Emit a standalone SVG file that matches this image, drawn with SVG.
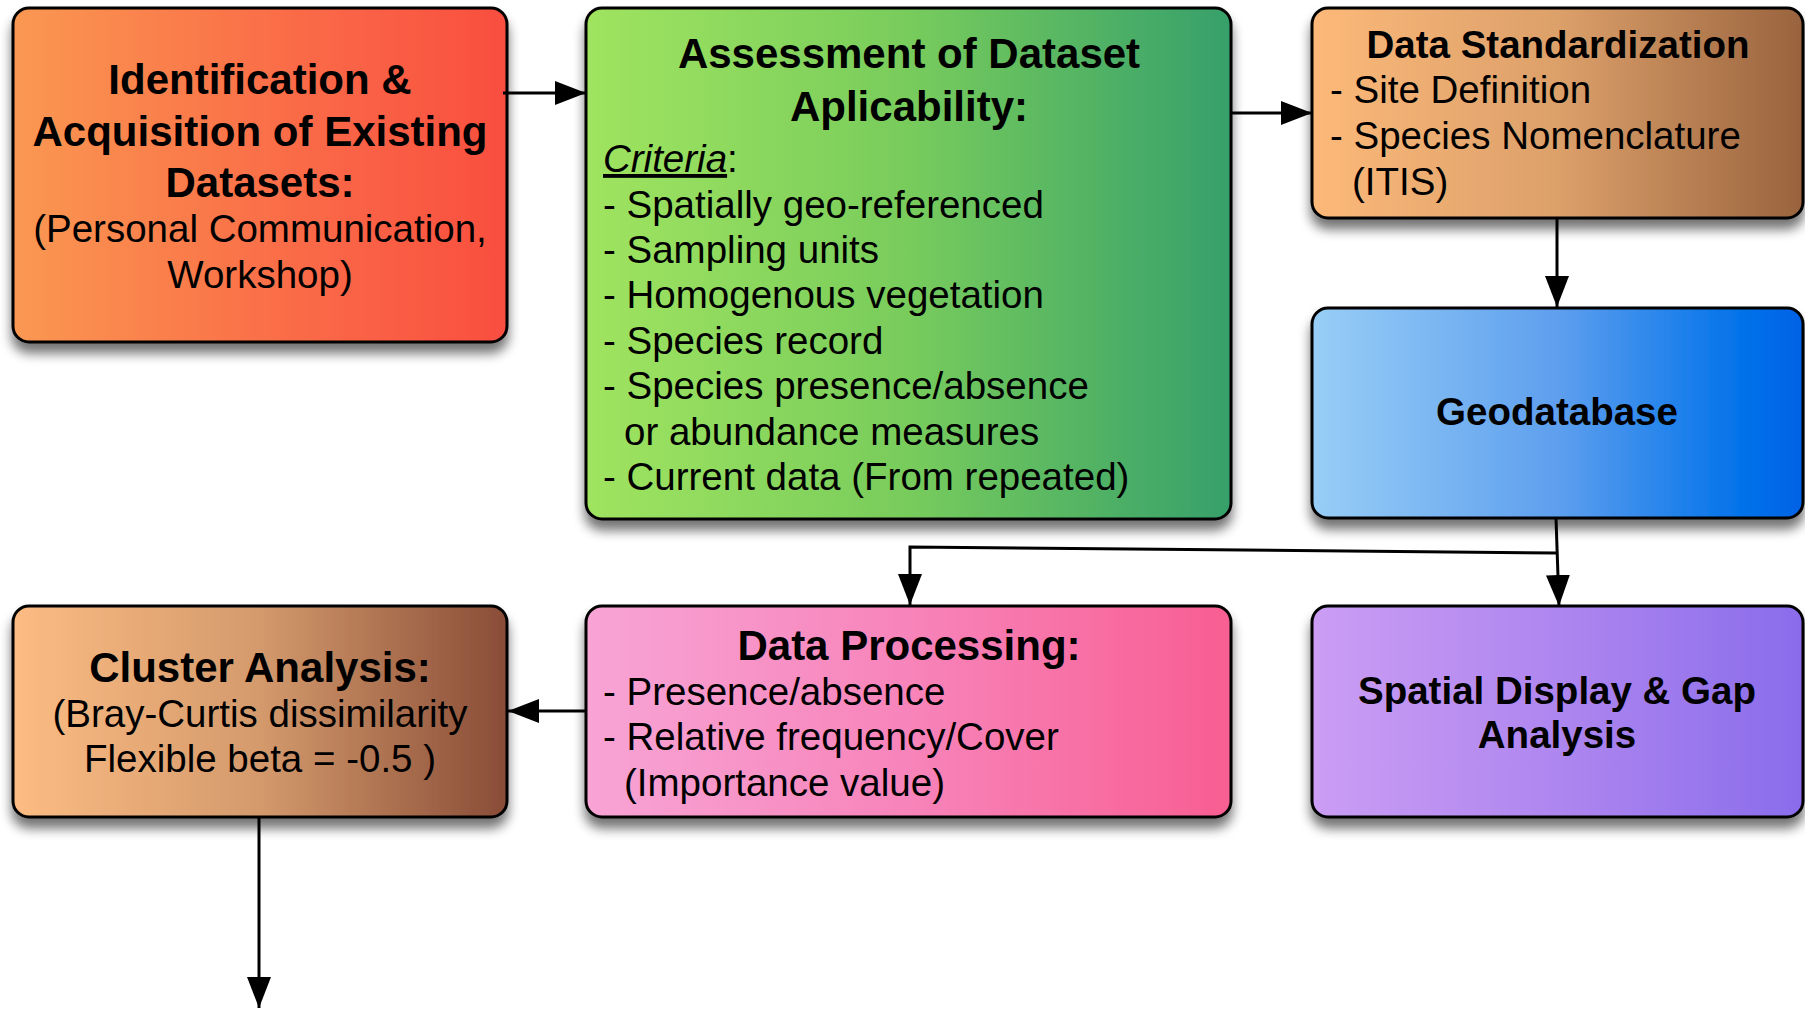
<svg xmlns="http://www.w3.org/2000/svg" width="1805" height="1009" viewBox="0 0 1805 1009">
<defs>
<filter id="sh" x="-10%" y="-10%" width="120%" height="130%">
<feGaussianBlur in="SourceAlpha" stdDeviation="6"/>
<feOffset dx="0" dy="10" result="b"/>
<feComponentTransfer><feFuncA type="linear" slope="0.55"/></feComponentTransfer>
<feMerge><feMergeNode/><feMergeNode in="SourceGraphic"/></feMerge>
</filter>
<linearGradient id="g1" x1="0" y1="0" x2="1" y2="0"><stop offset="0" stop-color="#FA9852"/><stop offset="0.5" stop-color="#FA7048"/><stop offset="1" stop-color="#F94E40"/></linearGradient>
<linearGradient id="g2" x1="0" y1="0" x2="1" y2="0"><stop offset="0" stop-color="#A0E45F"/><stop offset="0.5" stop-color="#78CC5C"/><stop offset="1" stop-color="#36A06B"/></linearGradient>
<linearGradient id="g3" x1="0" y1="0" x2="1" y2="0"><stop offset="0" stop-color="#FCB979"/><stop offset="0.5" stop-color="#DCA06A"/><stop offset="1" stop-color="#99633E"/></linearGradient>
<linearGradient id="g4" x1="0" y1="0" x2="1" y2="0"><stop offset="0" stop-color="#98CEF6"/><stop offset="0.5" stop-color="#5E9FEE"/><stop offset="0.85" stop-color="#0775EA"/><stop offset="1" stop-color="#0062E6"/></linearGradient>
<linearGradient id="g5" x1="0" y1="0" x2="1" y2="0"><stop offset="0" stop-color="#FCBC83"/><stop offset="0.5" stop-color="#D49A6C"/><stop offset="1" stop-color="#894C37"/></linearGradient>
<linearGradient id="g6" x1="0" y1="0" x2="1" y2="0"><stop offset="0" stop-color="#F8A4D5"/><stop offset="0.5" stop-color="#F784BA"/><stop offset="1" stop-color="#F85E92"/></linearGradient>
<linearGradient id="g7" x1="0" y1="0" x2="1" y2="0"><stop offset="0" stop-color="#CB9DF4"/><stop offset="0.5" stop-color="#AE86EF"/><stop offset="1" stop-color="#8A6CEB"/></linearGradient>
<marker id="ah" viewBox="0 0 31 24" refX="31" refY="12" markerWidth="31" markerHeight="24" markerUnits="userSpaceOnUse" orient="auto">
<path d="M0,0 L31,12 L0,24 z" fill="#000"/>
</marker>
</defs>
<style>
.box{stroke:#000;stroke-width:3}
text{font-family:"Liberation Sans",Arial,Helvetica,sans-serif;fill:#000}
.b{font-weight:bold;font-size:42px}
.bs{font-weight:bold;font-size:38.5px}
.r{font-size:38.5px}
.c{text-anchor:middle}
.con{fill:none;stroke:#000;stroke-width:3}
</style>
<rect width="1805" height="1009" fill="#fff"/>

<g id="node-identification">
<rect class="box" x="13" y="8" width="494" height="334" rx="16" fill="url(#g1)" filter="url(#sh)"/>
<text class="b c" x="260" y="94">Identification &amp;</text>
<text class="b c" x="260" y="146">Acquisition of Existing</text>
<text class="b c" x="260" y="197">Datasets:</text>
<text class="r c" x="260" y="242">(Personal Communication,</text>
<text class="r c" x="260" y="288">Workshop)</text>
</g>

<g id="node-assessment">
<rect class="box" x="586" y="8" width="645" height="511" rx="16" fill="url(#g2)" filter="url(#sh)"/>
<text class="b c" x="909" y="68">Assessment of Dataset</text>
<text class="b c" x="909" y="121">Aplicability:</text>
<text class="r" x="603" y="172"><tspan font-style="italic" text-decoration="underline">Criteria</tspan>:</text>
<text class="r" x="603" y="218">- Spatially geo-referenced</text>
<text class="r" x="603" y="263">- Sampling units</text>
<text class="r" x="603" y="308">- Homogenous vegetation</text>
<text class="r" x="603" y="354">- Species record</text>
<text class="r" x="603" y="399">- Species presence/absence</text>
<text class="r" x="624" y="445">or abundance measures</text>
<text class="r" x="603" y="490">- Current data (From repeated)</text>
</g>

<g id="node-standardization">
<rect class="box" x="1312" y="8" width="491" height="210" rx="16" fill="url(#g3)" filter="url(#sh)"/>
<text class="bs c" x="1558" y="58">Data Standardization</text>
<text class="r" x="1330" y="103">- Site Definition</text>
<text class="r" x="1330" y="149">- Species Nomenclature</text>
<text class="r" x="1352" y="195">(ITIS)</text>
</g>

<g id="node-geodatabase">
<rect class="box" x="1312" y="308" width="491" height="210" rx="16" fill="url(#g4)" filter="url(#sh)"/>
<text class="bs c" x="1557" y="425">Geodatabase</text>
</g>

<g id="node-cluster">
<rect class="box" x="13" y="606" width="494" height="211" rx="16" fill="url(#g5)" filter="url(#sh)"/>
<text class="b c" x="260" y="682">Cluster Analysis:</text>
<text class="r c" x="260" y="727">(Bray-Curtis dissimilarity</text>
<text class="r c" x="260" y="772">Flexible beta = -0.5 )</text>
</g>

<g id="node-processing">
<rect class="box" x="586" y="606" width="645" height="211" rx="16" fill="url(#g6)" filter="url(#sh)"/>
<text class="b c" x="909" y="660">Data Processing:</text>
<text class="r" x="603" y="705">- Presence/absence</text>
<text class="r" x="603" y="750">- Relative frequency/Cover</text>
<text class="r" x="624" y="796">(Importance value)</text>
</g>

<g id="node-spatial">
<rect class="box" x="1312" y="606" width="491" height="211" rx="16" fill="url(#g7)" filter="url(#sh)"/>
<text class="bs c" x="1557" y="704">Spatial Display &amp; Gap</text>
<text class="bs c" x="1557" y="748">Analysis</text>
</g>

<g id="connectors">
<path class="con" d="M503,93 L586,93" marker-end="url(#ah)"/>
<path class="con" d="M1231,113 L1312,113" marker-end="url(#ah)"/>
<path class="con" d="M1557,218 L1557,307" marker-end="url(#ah)"/>
<path class="con" d="M1556,518 L1559,606" marker-end="url(#ah)"/>
<path class="con" d="M1556,553 L910,547 L910,605" marker-end="url(#ah)"/>
<path class="con" d="M586,711 L508,711" marker-end="url(#ah)"/>
<path class="con" d="M259,817 L259,1008" marker-end="url(#ah)"/>
</g>
</svg>
